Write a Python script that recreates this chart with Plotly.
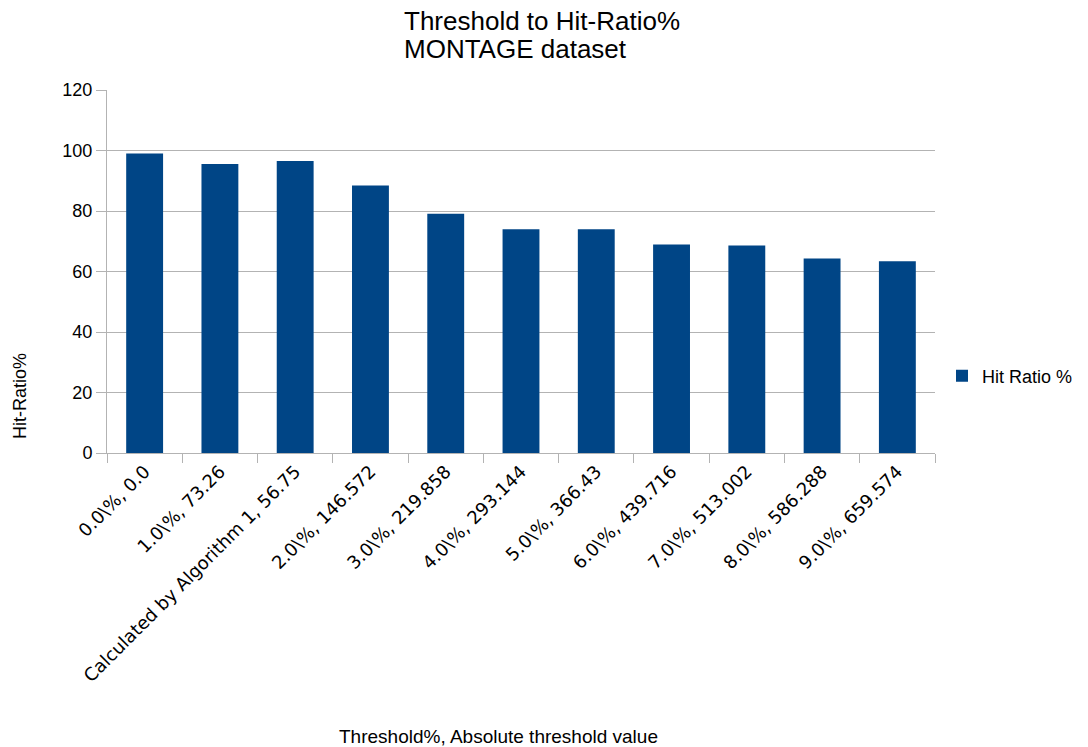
import plotly.graph_objects as go

categories = [
    "0.0\\%, 0.0",
    "1.0\\%, 73.26",
    "Calculated by Algorithm 1, 56.75",
    "2.0\\%, 146.572",
    "3.0\\%, 219.858",
    "4.0\\%, 293.144",
    "5.0\\%, 366.43",
    "6.0\\%, 439.716",
    "7.0\\%, 513.002",
    "8.0\\%, 586.288",
    "9.0\\%, 659.574",
]
hit_ratio = [99.0, 95.5, 96.5, 88.4, 79.1, 74.0, 74.0, 68.9, 68.6, 64.3, 63.4]
y_ticks = [0, 20, 40, 60, 80, 100, 120]

BAR_COLOR = "#004586"
GRID = "#b3b3b3"
FONT = "Liberation Sans, Arial, sans-serif"

# plot-area box in pixels
W, H = 1088, 747
L, R, T, B = 107, 935, 90, 453
PW, PH = R - L, B - T


def px_x(x):
    return (x - L) / PW


def px_y(y):
    return (B - y) / PH


fig = go.Figure()
fig.add_trace(go.Bar(
    x=categories,
    y=hit_ratio,
    name="Hit Ratio %",
    marker=dict(color=BAR_COLOR, line=dict(width=0)),
))

fig.update_layout(
    width=W,
    height=H,
    paper_bgcolor="white",
    plot_bgcolor="white",
    font=dict(family=FONT, color="#000000"),
    margin=dict(l=L, r=W - R, t=T, b=H - B, autoexpand=False),
    bargap=0.51,
    showlegend=True,
    legend=dict(
        x=px_x(942), y=px_y(376), xanchor="left", yanchor="middle",
        font=dict(size=18, family=FONT),
        itemwidth=30,
        bgcolor="rgba(0,0,0,0)",
    ),
    xaxis=dict(
        type="category",
        tickangle=-45,
        tickson="boundaries",
        ticks="outside",
        ticklen=9,
        tickcolor=GRID,
        showline=True,
        linecolor=GRID,
        showgrid=False,
        automargin=False,
        tickfont=dict(size=18, family="DejaVu Sans, sans-serif", color="#000000"),
    ),
    yaxis=dict(
        range=[0, 120],
        tickvals=y_ticks,
        ticks="outside",
        ticklen=10,
        tickcolor=GRID,
        showline=True,
        linecolor=GRID,
        showgrid=True,
        gridcolor=GRID,
        gridwidth=1,
        zeroline=False,
        automargin=False,
        tickfont=dict(size=18, family=FONT, color="#000000"),
    ),
    annotations=[
        dict(
            text="Threshold to Hit-Ratio%",
            xref="paper", yref="paper",
            x=px_x(402), y=px_y(21),
            xanchor="left", yanchor="middle",
            showarrow=False,
            font=dict(size=26, family=FONT, color="#000000"),
        ),
        dict(
            text="MONTAGE dataset",
            xref="paper", yref="paper",
            x=px_x(402), y=px_y(49),
            xanchor="left", yanchor="middle",
            showarrow=False,
            font=dict(size=26, family=FONT, color="#000000"),
        ),
        dict(
            text="Threshold%, Absolute threshold value",
            xref="paper", yref="paper",
            x=px_x(498), y=px_y(736),
            xanchor="center", yanchor="middle",
            showarrow=False,
            font=dict(size=19, family=FONT, color="#000000"),
        ),
        dict(
            text="Hit-Ratio%",
            xref="paper", yref="paper",
            x=px_x(20), y=px_y(396),
            xanchor="center", yanchor="middle",
            textangle=-90,
            showarrow=False,
            font=dict(size=18, family=FONT, color="#000000"),
        ),
    ],
)

fig.write_html("out.html")
